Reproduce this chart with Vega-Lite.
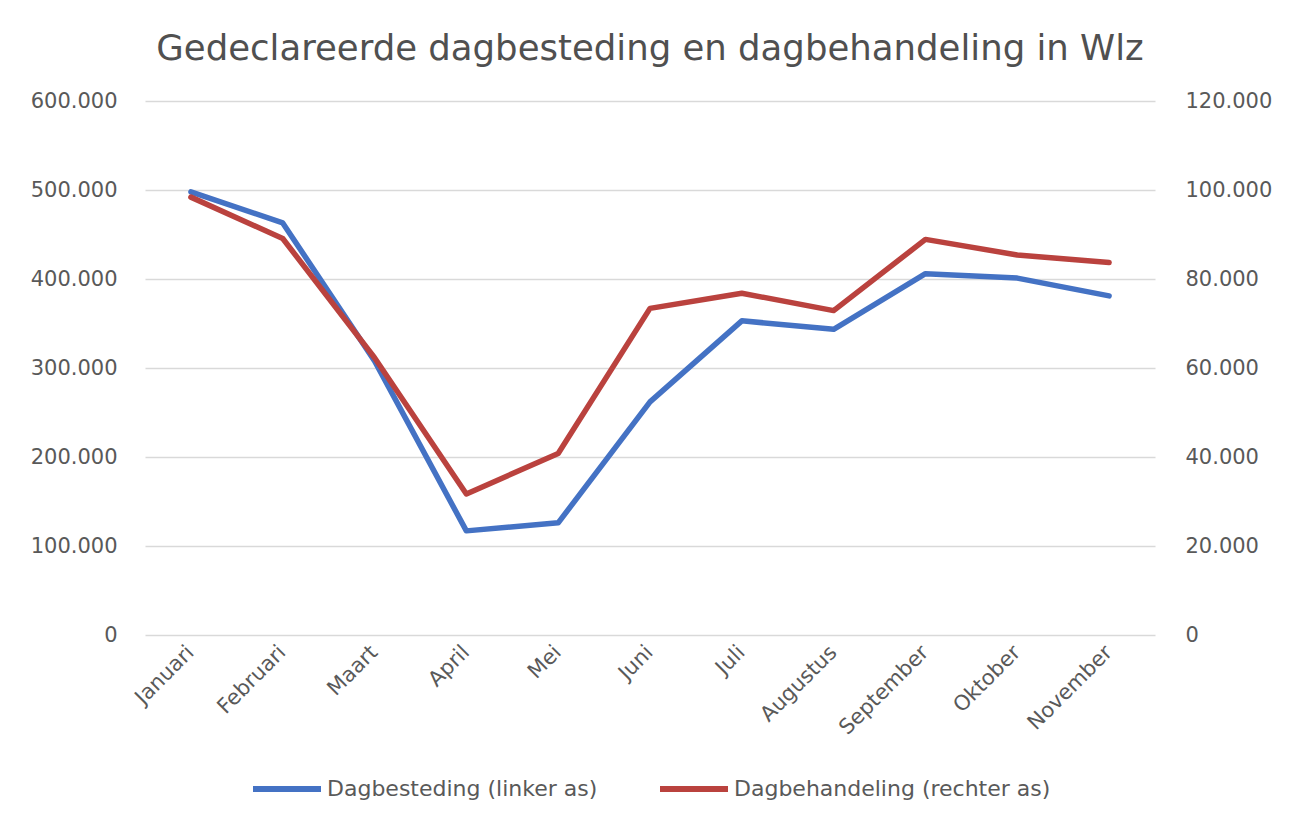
{
  "$schema": "https://vega.github.io/schema/vega-lite/v6.json",
  "width": 1010,
  "height": 534,
  "autosize": {"type": "none"},
  "padding": {"left": 145, "top": 101, "right": 144, "bottom": 192},
  "background": "white",
  "config": {
    "locale": {"number": {"decimal": ",", "thousands": ".", "grouping": [3], "currency": ["€", ""]}},
    "font": "DejaVu Sans",
    "view": {"stroke": null},
    "axis": {"labelColor": "#595959", "labelFont": "DejaVu Sans", "labelFontSize": 21, "domain": false, "ticks": false, "titleColor": "#595959"}
  },
  "title": {"text": "Gedeclareerde dagbesteding en dagbehandeling in Wlz", "fontSize": 35.5, "font": "DejaVu Sans", "fontWeight": "normal", "color": "#505050", "anchor": "middle", "offset": 23},
  "data": {"values": [
    {"maand": "Januari", "reeks": "Dagbesteding (linker as)", "waarde": 498000},
    {"maand": "Februari", "reeks": "Dagbesteding (linker as)", "waarde": 463000},
    {"maand": "Maart", "reeks": "Dagbesteding (linker as)", "waarde": 308000},
    {"maand": "April", "reeks": "Dagbesteding (linker as)", "waarde": 117000},
    {"maand": "Mei", "reeks": "Dagbesteding (linker as)", "waarde": 126000},
    {"maand": "Juni", "reeks": "Dagbesteding (linker as)", "waarde": 262000},
    {"maand": "Juli", "reeks": "Dagbesteding (linker as)", "waarde": 353000},
    {"maand": "Augustus", "reeks": "Dagbesteding (linker as)", "waarde": 343500},
    {"maand": "September", "reeks": "Dagbesteding (linker as)", "waarde": 406000},
    {"maand": "Oktober", "reeks": "Dagbesteding (linker as)", "waarde": 401000},
    {"maand": "November", "reeks": "Dagbesteding (linker as)", "waarde": 381000},
    {"maand": "Januari", "reeks": "Dagbehandeling (rechter as)", "waarde": 98400},
    {"maand": "Februari", "reeks": "Dagbehandeling (rechter as)", "waarde": 89100},
    {"maand": "Maart", "reeks": "Dagbehandeling (rechter as)", "waarde": 62300},
    {"maand": "April", "reeks": "Dagbehandeling (rechter as)", "waarde": 31700},
    {"maand": "Mei", "reeks": "Dagbehandeling (rechter as)", "waarde": 40800},
    {"maand": "Juni", "reeks": "Dagbehandeling (rechter as)", "waarde": 73400},
    {"maand": "Juli", "reeks": "Dagbehandeling (rechter as)", "waarde": 76800},
    {"maand": "Augustus", "reeks": "Dagbehandeling (rechter as)", "waarde": 72900},
    {"maand": "September", "reeks": "Dagbehandeling (rechter as)", "waarde": 88900},
    {"maand": "Oktober", "reeks": "Dagbehandeling (rechter as)", "waarde": 85400},
    {"maand": "November", "reeks": "Dagbehandeling (rechter as)", "waarde": 83700}
  ]},
  "encoding": {
    "x": {"field": "maand", "type": "nominal", "sort": null, "title": null,
      "scale": {"type": "band", "paddingInner": 0, "paddingOuter": 0},
      "axis": {"labelAngle": -45, "labelAlign": "right", "labelBaseline": "middle", "labelFontSize": 21, "labelPadding": 14, "grid": false, "labelLimit": 300}},
    "color": {"field": "reeks", "type": "nominal", "title": null,
      "scale": {"domain": ["Dagbesteding (linker as)", "Dagbehandeling (rechter as)"], "range": ["#4472C4", "#BA423E"]},
      "legend": {"orient": "none", "legendX": 105, "legendY": 651, "direction": "horizontal", "symbolType": "stroke", "symbolSize": 4624, "symbolStrokeWidth": 6, "labelFontSize": 22, "labelColor": "#595959", "labelFont": "DejaVu Sans", "labelLimit": 600, "columnPadding": 50, "labelOffset": 3}}
  },
  "layer": [
    {
      "transform": [{"filter": "datum.reeks === 'Dagbesteding (linker as)'"}],
      "mark": {"type": "line", "strokeWidth": 5.5, "strokeCap": "round", "strokeJoin": "round"},
      "encoding": {
        "y": {"field": "waarde", "type": "quantitative", "title": null,
          "scale": {"domain": [0, 600000]},
          "axis": {"orient": "left", "values": [0, 100000, 200000, 300000, 400000, 500000, 600000], "format": ",.0f", "gridColor": "#d9d9d9", "gridWidth": 1.5, "labelPadding": 28}}
      }
    },
    {
      "transform": [{"filter": "datum.reeks === 'Dagbehandeling (rechter as)'"}],
      "mark": {"type": "line", "strokeWidth": 5.5, "strokeCap": "round", "strokeJoin": "round"},
      "encoding": {
        "y": {"field": "waarde", "type": "quantitative", "title": null,
          "scale": {"domain": [0, 120000]},
          "axis": {"orient": "right", "values": [0, 20000, 40000, 60000, 80000, 100000, 120000], "format": ",.0f", "grid": false, "labelPadding": 30}}
      }
    }
  ],
  "resolve": {"scale": {"y": "independent"}}
}
